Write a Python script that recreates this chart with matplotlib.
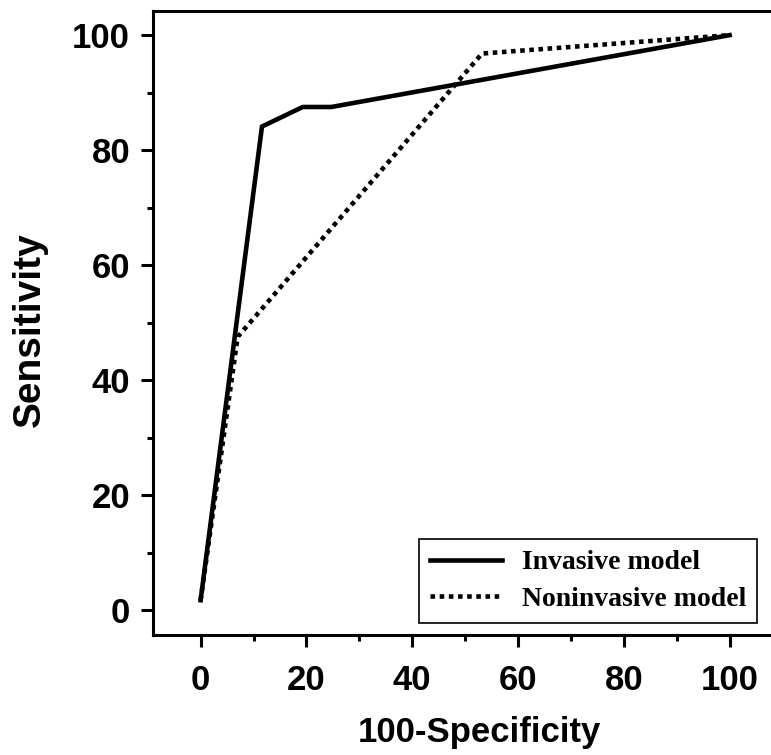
import matplotlib
matplotlib.use('Agg')
import matplotlib.pyplot as plt
from matplotlib.ticker import MultipleLocator

# ROC-Kurven
invasive_x = [0, 11.6, 19.3, 24.7, 100]
invasive_y = [1.7, 84.1, 87.5, 87.5, 100]
noninvasive_x = [0, 7.0, 53.2, 100]
noninvasive_y = [1.7, 47.5, 96.8, 100]

x_ticks = [0, 20, 40, 60, 80, 100]
y_ticks = [0, 20, 40, 60, 80, 100]

fig = plt.figure(figsize=(7.71, 7.55), dpi=100)
ax = fig.add_axes([153 / 771, 120 / 755, 629.5 / 771, 624 / 755])

ax.plot(invasive_x, invasive_y, color='black', lw=3.3, solid_joinstyle='miter',
        label='Invasive model')
ax.plot(noninvasive_x, noninvasive_y, color='black', lw=3.3,
        linestyle=(0, (1, 1)), dash_capstyle='butt', label='Noninvasive model')

ax.set_xlim(-9, 110)
ax.set_ylim(-4.35, 104.2)
ax.set_xticks(x_ticks)
ax.set_yticks(y_ticks)
ax.xaxis.set_minor_locator(MultipleLocator(10))
ax.yaxis.set_minor_locator(MultipleLocator(10))

for side in ['left', 'bottom', 'top']:
    ax.spines[side].set_linewidth(2.2)
ax.spines['right'].set_visible(False)

ax.tick_params(which='major', direction='out', length=8.5, width=2.2, pad=8,
               labelsize=25)
ax.tick_params(axis='x', which='major', pad=12.5)
ax.tick_params(which='minor', direction='out', length=4.5, width=2.2)
for lab in ax.get_xticklabels() + ax.get_yticklabels():
    lab.set_fontfamily('Liberation Sans')
    lab.set_fontweight('bold')

ax.set_xlabel('100-Specificity', fontsize=25, fontweight='bold',
              family='Liberation Sans')
ax.xaxis.set_label_coords(0.518, -0.13)
ax.set_ylabel('Sensitivity', fontsize=28, fontweight='bold',
              family='Liberation Sans')
ax.yaxis.set_label_coords(-0.167, 0.49)

leg = ax.legend(loc='lower right', bbox_to_anchor=(757 / 771, 132 / 755),
                bbox_transform=fig.transFigure, borderaxespad=0,
                prop={'family': 'Liberation Serif', 'weight': 'bold', 'size': 20},
                handlelength=2.6, handletextpad=0.7, labelspacing=0.4,
                fancybox=False, framealpha=1, edgecolor='black')
leg.get_frame().set_linewidth(1.2)

fig.savefig('out.png', dpi=100)
